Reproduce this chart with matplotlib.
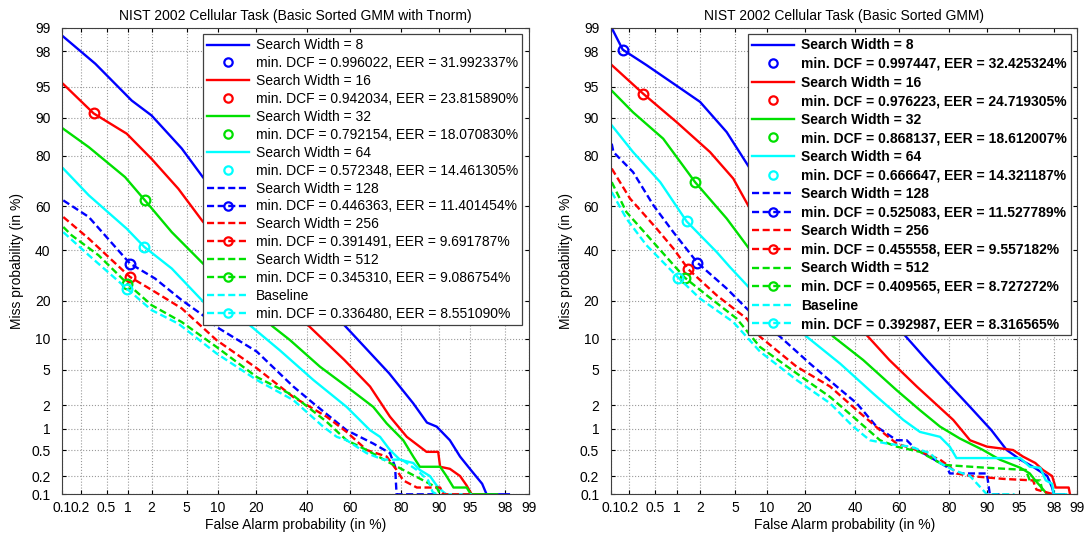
import math
from statistics import NormalDist
import numpy as np
import matplotlib
matplotlib.use('Agg')
import matplotlib.pyplot as plt
from matplotlib.lines import Line2D

plt.rcParams['font.family'] = ['Liberation Sans', 'DejaVu Sans']
plt.rcParams['font.size'] = 10

# ---- data (probabilities in %) ----
labels = ['Search Width = 8', 'Search Width = 16', 'Search Width = 32', 'Search Width = 64',
          'Search Width = 128', 'Search Width = 256', 'Search Width = 512', 'Baseline']
prob_ticks = [0.1, 0.2, 0.5, 1, 2, 5, 10, 20, 40, 60, 80, 90, 95, 98, 99]
prob_tick_labels = ['0.1', '0.2', '0.5', '1', '2', '5', '10', '20', '40', '60', '80', '90', '95', '98', '99']

# left panel: Basic Sorted GMM with Tnorm
tn_pfa_8 = [0.104, 0.34, 1.12, 2.0, 4.43, 7.27, 26.3, 57.4, 76.0, 83.8, 87.4, 89.6, 92.1, 93.7, 95.1, 96.3, 96.7, 98.2]
tn_pmiss_8 = [98.7, 97.2, 93.1, 90.5, 82.3, 72.3, 39.5, 13.0, 4.6, 2.1, 1.2, 1.06, 0.69, 0.40, 0.25, 0.15, 0.1, 0.1]
tn_pfa_16 = [0.104, 0.32, 0.96, 2.0, 4.07, 7.27, 14.7, 26.1, 40.7, 57.4, 68.6, 76.3, 81.9, 87.3, 89.9, 90.3, 92.1, 93.7, 94.6, 95.2, 96.5]
tn_pmiss_16 = [95.3, 90.9, 86.4, 79.0, 67.7, 53.0, 37.3, 23.4, 13.0, 6.3, 3.3, 1.43, 0.77, 0.47, 0.47, 0.28, 0.26, 0.2, 0.14, 0.1, 0.1]
tn_pfa_32 = [0.104, 0.27, 0.91, 1.66, 3.45, 7.27, 14.7, 26.1, 32.8, 46.1, 58.4, 69.9, 75.1, 80.8, 83.8, 85.6, 90.3, 91.5, 92.7, 94.6, 95.1, 97.5]
tn_pmiss_32 = [87.6, 82.7, 72.4, 62.7, 48.2, 34.1, 21.8, 12.6, 9.7, 5.4, 3.3, 1.9, 1.17, 0.69, 0.4, 0.28, 0.28, 0.2, 0.13, 0.13, 0.1, 0.1]
tn_pfa_64 = [0.104, 0.27, 0.96, 1.63, 3.45, 7.6, 18.1, 28.7, 43.1, 58.4, 68.6, 72.6, 76.3, 79.7, 83.8, 85.6, 88.1, 89.6, 90.9, 91.5, 95.1]
tn_pmiss_64 = [75.6, 64.9, 49.8, 41.4, 32.0, 19.1, 13.0, 7.8, 3.9, 1.9, 0.95, 0.77, 0.5, 0.36, 0.32, 0.25, 0.2, 0.14, 0.11, 0.1, 0.1]
tn_pfa_128 = [0.104, 0.27, 1.06, 2.2, 4.43, 7.27, 9.7, 20.3, 34.2, 43.1, 58.4, 69.9, 76.3, 78.1, 78.6, 89.6]
tn_pmiss_128 = [62.7, 55.2, 34.1, 28.0, 20.2, 15.6, 12.6, 7.6, 3.3, 2.1, 0.95, 0.62, 0.45, 0.28, 0.1, 0.1]
tn_pfa_256 = [0.104, 0.27, 1.06, 2.2, 4.43, 9.7, 20.3, 34.2, 49.2, 58.4, 67.2, 75.1, 78.6, 80.8, 84.8, 90.3, 90.9, 95.1]
tn_pmiss_256 = [55.2, 45.2, 28.6, 23.0, 17.6, 9.7, 5.2, 2.5, 1.43, 0.9, 0.5, 0.4, 0.25, 0.17, 0.13, 0.13, 0.1, 0.1]
tn_pfa_512 = [0.104, 0.144, 0.38, 0.98, 2.0, 4.43, 9.7, 20.3, 34.2, 49.2, 58.4, 67.2, 76.3, 80.8, 86.5, 89.6, 90.3]
tn_pmiss_512 = [50.6, 46.7, 37.7, 26.0, 18.6, 13.8, 8.4, 4.2, 2.6, 1.23, 0.69, 0.5, 0.32, 0.25, 0.17, 0.13, 0.1]
tn_pfa_base = [0.104, 0.27, 0.96, 2.0, 4.07, 9.7, 20.3, 34.2, 47.6, 53.9, 58.4, 67.2, 73.8, 80.3, 84.8, 87.7, 88.7, 89.6]
tn_pmiss_base = [48.2, 37.7, 24.2, 17.1, 13.4, 7.3, 3.9, 2.3, 1.06, 0.77, 0.69, 0.45, 0.36, 0.36, 0.25, 0.17, 0.11, 0.1]
tn_dcf = [0.996022, 0.942034, 0.792154, 0.572348, 0.446363, 0.391491, 0.345310, 0.336480]
tn_eer = [31.992337, 23.815890, 18.070830, 14.461305, 11.401454, 9.691787, 9.086754, 8.551090]
tn_mark_pfa = [None, 0.32, 1.66, 1.63, 1.06, 1.06, 0.98, 0.96]
tn_mark_pmiss = [None, 90.9, 62.7, 41.4, 34.1, 28.6, 26.0, 24.2]

# right panel: Basic Sorted GMM
bs_pfa_8 = [0.103, 0.157, 0.37, 1.0, 1.99, 4.04, 7.0, 18.9, 38.6, 61.9, 70.6, 78.5, 86.0, 90.8, 93.4, 95.2, 96.5, 97.6, 97.9, 98.0, 98.5]
bs_pmiss_8 = [99.0, 98.1, 97.1, 95.1, 92.9, 86.8, 75.6, 52.2, 28.0, 11.1, 6.8, 3.9, 1.9, 0.95, 0.5, 0.36, 0.28, 0.2, 0.13, 0.1, 0.1]
bs_pfa_16 = [0.103, 0.33, 1.0, 2.62, 4.75, 7.0, 15.2, 28.0, 44.5, 55.7, 67.8, 81.2, 86.0, 89.9, 94.3, 95.5, 96.7, 97.3, 97.9, 98.1, 98.7, 98.75]
bs_pmiss_16 = [97.1, 94.1, 89.1, 81.2, 71.8, 59.0, 39.9, 23.0, 11.1, 6.3, 3.3, 1.3, 0.69, 0.56, 0.5, 0.4, 0.32, 0.25, 0.2, 0.13, 0.13, 0.1]
bs_pfa_32 = [0.103, 0.23, 0.65, 1.73, 4.04, 7.27, 16.3, 30.6, 43.6, 59.0, 69.1, 76.8, 83.2, 89.1, 92.3, 95.2, 96.2, 96.7, 97.2, 97.6]
bs_pmiss_32 = [94.5, 91.1, 85.1, 70.4, 54.5, 39.1, 22.1, 10.4, 6.3, 3.0, 1.73, 1.06, 0.73, 0.5, 0.36, 0.27, 0.22, 0.17, 0.13, 0.1]
bs_pfa_64 = [0.103, 0.23, 0.59, 1.35, 3.13, 4.38, 7.0, 20.7, 33.4, 48.2, 62.0, 69.1, 76.8, 80.1, 82.2, 88.4, 95.2, 96.2, 97.1, 97.5, 97.9, 98.0, 98.6]
bs_pmiss_64 = [88.4, 81.2, 70.4, 53.2, 39.1, 32.6, 24.2, 10.4, 5.8, 2.75, 1.3, 0.9, 0.77, 0.56, 0.38, 0.38, 0.38, 0.28, 0.27, 0.17, 0.15, 0.1, 0.1]
bs_pfa_128 = [0.103, 0.11, 0.23, 0.47, 0.9, 1.84, 4.04, 7.0, 13.0, 21.8, 32.0, 40.7, 49.8, 59.0, 63.5, 67.7, 69.1, 79.1, 80.1, 89.9, 90.5, 92.6]
bs_pmiss_128 = [83.7, 81.2, 74.3, 60.5, 48.2, 34.5, 24.2, 16.6, 10.4, 5.8, 3.3, 2.1, 1.06, 0.69, 0.69, 0.5, 0.48, 0.28, 0.22, 0.22, 0.1, 0.1]
bs_pfa_256 = [0.103, 0.206, 0.525, 0.9, 1.42, 3.13, 6.5, 8.7, 17.5, 29.3, 40.7, 51.4, 59.0, 67.7, 76.8, 80.1, 82.2, 86.0, 92.9, 96.5, 96.8, 98.0]
bs_pmiss_256 = [75.6, 63.5, 49.8, 40.7, 31.7, 21.8, 14.7, 10.4, 5.4, 3.3, 1.73, 0.95, 0.62, 0.5, 0.36, 0.28, 0.22, 0.2, 0.18, 0.17, 0.12, 0.1]
bs_pfa_512 = [0.103, 0.18, 0.42, 1.28, 2.4, 5.16, 8.7, 17.5, 29.3, 40.7, 51.4, 59.0, 69.1, 77.9, 82.2, 89.9, 95.8, 96.2, 97.1, 97.3]
bs_pmiss_512 = [70.4, 57.5, 45.2, 28.3, 21.8, 14.7, 8.4, 4.6, 2.5, 1.3, 0.69, 0.56, 0.47, 0.3, 0.29, 0.27, 0.25, 0.17, 0.17, 0.1]
bs_pfa_base = [0.103, 0.18, 0.37, 1.05, 1.99, 4.75, 8.7, 17.5, 29.3, 39.1, 46.7, 54.5, 64.9, 73.1, 76.8, 81.2, 86.0, 89.9, 94.5]
bs_pmiss_base = [66.3, 54.5, 42.2, 28.3, 20.7, 13.8, 7.6, 3.9, 2.1, 1.06, 0.69, 0.62, 0.56, 0.45, 0.32, 0.25, 0.2, 0.1, 0.1]
bs_dcf = [0.997447, 0.976223, 0.868137, 0.666647, 0.525083, 0.455558, 0.409565, 0.392987]
bs_eer = [32.425324, 24.719305, 18.612007, 14.321187, 11.527789, 9.557182, 8.727272, 8.316565]
bs_mark_pfa = [0.157, 0.33, 1.73, 1.35, 1.84, 1.42, 1.28, 1.05]
bs_mark_pmiss = [98.1, 94.1, 70.4, 53.2, 34.5, 31.7, 28.3, 28.3]

# ---- style ----
colors = ['#0000ff', '#ff0000', '#00e000', '#00ffff'] * 2
styles = ['-'] * 4 + ['--'] * 4
line_width = 1.7
dash_pattern = (3.0, 1.5)

_nd = NormalDist()


def _inv_cdf(p):
    if not np.isfinite(p):
        return p
    return _nd.inv_cdf(min(max(p, 1e-9), 1 - 1e-9))


def probit(p):
    p = np.asarray(p, dtype=float) / 100.0
    return np.vectorize(_inv_cdf, otypes=[float])(p)


def inv_probit(z):
    z = np.asarray(z, dtype=float)
    return np.vectorize(lambda v: 50.0 * (1.0 + math.erf(v / math.sqrt(2.0))), otypes=[float])(z)


def draw_panel(ax, title, pfas, pmisses, dcf, eer, mark_pfa, mark_pmiss, bold):
    ax.set_xscale('function', functions=(probit, inv_probit))
    ax.set_yscale('function', functions=(probit, inv_probit))
    handles = []
    texts = []
    for i in range(len(labels)):
        kw = dict(color=colors[i], linewidth=line_width, linestyle=styles[i])
        if styles[i] == '--':
            kw['dashes'] = dash_pattern
        ln, = ax.plot(pfas[i], pmisses[i], **kw)
        if mark_pfa[i] is not None:
            ax.plot([mark_pfa[i]], [mark_pmiss[i]], marker='o', markersize=7, markerfacecolor='none',
                    markeredgewidth=1.6, color=colors[i], linestyle='none')
        if styles[i] == '--':
            mk = Line2D([], [], color=colors[i], linewidth=line_width, dashes=dash_pattern,
                        marker='o', markersize=6, markerfacecolor='none', markeredgewidth=1.6)
        else:
            mk = Line2D([], [], color=colors[i], linestyle='none', marker='o', markersize=6,
                        markerfacecolor='none', markeredgewidth=1.6)
        handles += [ln, mk]
        texts += [labels[i], f'min. DCF = {dcf[i]:.6f}, EER = {eer[i]:.6f}%']

    ax.set_xlim(0.1, 99)
    ax.set_ylim(0.1, 99)
    ax.set_xticks(prob_ticks)
    ax.set_xticklabels(prob_tick_labels)
    ax.set_yticks(prob_ticks)
    ax.set_yticklabels(prob_tick_labels)
    ax.xaxis.set_minor_locator(matplotlib.ticker.NullLocator())
    ax.yaxis.set_minor_locator(matplotlib.ticker.NullLocator())
    ax.grid(True, linestyle=':', color='#9a9a9a', linewidth=0.8)
    ax.tick_params(direction='in', top=True, right=True, length=3, labelsize=10)
    ax.tick_params(axis='x', pad=5)
    ax.tick_params(axis='y', pad=8.5)
    for sp in ax.spines.values():
        sp.set_color('#404040')
    ax.set_title(title, fontsize=10, pad=6)
    ax.set_xlabel('False Alarm probability (in %)', fontsize=10, labelpad=2)
    ax.set_ylabel('Miss probability (in %)', fontsize=10, labelpad=5)

    leg = ax.legend(handles, texts, loc='upper right', handlelength=3.0,
                    labelspacing=0.33 if bold else 0.28, borderpad=0.3, handletextpad=0.5,
                    borderaxespad=0.45, fancybox=False, framealpha=1, edgecolor='#404040',
                    prop={'weight': 'bold' if bold else 'normal', 'size': 10})
    leg.get_frame().set_linewidth(0.9)


fig = plt.figure(figsize=(10.85, 5.33), dpi=100)
ax1 = fig.add_axes([0.0574, 0.0726, 0.4298, 0.8749])
ax2 = fig.add_axes([0.5631, 0.0726, 0.4298, 0.8749])

draw_panel(ax1, 'NIST 2002 Cellular Task (Basic Sorted GMM with Tnorm)',
           [tn_pfa_8, tn_pfa_16, tn_pfa_32, tn_pfa_64, tn_pfa_128, tn_pfa_256, tn_pfa_512, tn_pfa_base],
           [tn_pmiss_8, tn_pmiss_16, tn_pmiss_32, tn_pmiss_64, tn_pmiss_128, tn_pmiss_256, tn_pmiss_512, tn_pmiss_base],
           tn_dcf, tn_eer, tn_mark_pfa, tn_mark_pmiss, bold=False)
draw_panel(ax2, 'NIST 2002 Cellular Task (Basic Sorted GMM)',
           [bs_pfa_8, bs_pfa_16, bs_pfa_32, bs_pfa_64, bs_pfa_128, bs_pfa_256, bs_pfa_512, bs_pfa_base],
           [bs_pmiss_8, bs_pmiss_16, bs_pmiss_32, bs_pmiss_64, bs_pmiss_128, bs_pmiss_256, bs_pmiss_512, bs_pmiss_base],
           bs_dcf, bs_eer, bs_mark_pfa, bs_mark_pmiss, bold=True)

fig.savefig('out.png', dpi=100, facecolor='white')
